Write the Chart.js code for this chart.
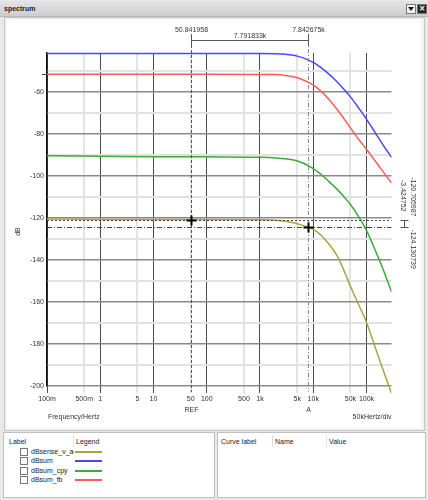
<!DOCTYPE html>
<html>
<head>
<meta charset="utf-8">
<script src="https://cdn.jsdelivr.net/npm/chart.js@4.4.1/dist/chart.umd.min.js"></script>
<style>
  body { margin:0; width:428px; height:500px; background:#e9e9e9; position:relative; overflow:hidden;
         font-family:"Liberation Sans", Arial, sans-serif; font-size:7px; color:#222; }
  .titlebar { position:absolute; left:0; top:1px; width:428px; height:15px;
              background:linear-gradient(#e4e4e4,#cdcdcd); border-bottom:1px solid #b9b9b9; }
  .titlebar .name { position:absolute; left:4px; top:4px; font-weight:bold; }
  .btn { position:absolute; top:3px; width:8px; height:8px; background:#f2f2f2; border:1px solid #777; }
  .btn.menu::after { content:""; position:absolute; left:1px; top:2px; border-left:3px solid transparent;
                     border-right:3px solid transparent; border-top:4px solid #111; }
  .btn.close { background:#222; color:#fff; font:bold 8px/8px "DejaVu Sans", sans-serif; text-align:center; }
  .panel { position:absolute; left:4px; top:17px; width:419px; height:412px; border:1px solid #c4c4c4; background:#f3f3f3; }
  #plotwrap { position:absolute; left:7px; top:20px; width:414px; height:408px; background:#fff; }
  .box { position:absolute; top:432px; height:64px; background:#fff; border:1px solid #c0c0c0; }
  .hdr { position:absolute; top:5px; }
  .sep { position:absolute; top:2px; width:1px; height:12px; background:#e2e2e2; }
  .row { position:absolute; left:0; height:9px; }
  .chk { position:absolute; left:16px; top:0; width:6px; height:6px; border:1px solid #777; background:#fff; }
  .lbl { position:absolute; left:27px; top:-1px; width:43px; height:10px; line-height:9px; overflow:hidden; white-space:nowrap; }
  .swatch { position:absolute; left:71px; top:3px; width:27px; height:2px; }
</style>
</head>
<body>
<div class="titlebar"><span class="name">spectrum</span>
  <div class="btn menu" style="left:406px"></div>
  <div class="btn close" style="left:417px">×</div>
</div>
<div class="panel"></div>
<div id="plotwrap"><canvas id="spectrum" width="414" height="408"></canvas></div>

<div class="box" style="left:3px; width:210px;">
  <span class="hdr" style="left:5px">Label</span>
  <div class="sep" style="left:69px"></div>
  <span class="hdr" style="left:72px">Legend</span>
  <div id="legendRows"></div>
</div>
<div class="box" style="left:217px; width:207px;">
  <span class="hdr" style="left:3px">Curve label</span>
  <div class="sep" style="left:54px"></div>
  <span class="hdr" style="left:57px">Name</span>
  <div class="sep" style="left:108px"></div>
  <span class="hdr" style="left:111px">Value</span>
</div>

<script>
"use strict";

/* --- DATA --- */

const freqHz = [0.1, 1, 10, 100, 1000, 2000, 3000, 4000, 5000, 6000, 7000, 8000, 10000,
                12000, 15000, 20000, 25000, 30000, 40000, 50000, 70000, 100000, 150000, 200000, 295000];

const dBsense_v_adc = [-120.4, -120.6, -120.7, -120.7, -120.8, -121.0, -121.5, -122.1, -122.7, -123.3,
                       -123.8, -124.3, -125.4, -126.7, -128.9, -132.6, -135.9, -139.3, -146.5, -152.5,
                       -160.8, -169.6, -182.5, -191.5, -203.5];
const dBsum = [-41.5, -41.5, -41.5, -41.5, -41.5, -41.6, -41.9, -42.3, -42.8, -43.4,
               -44.0, -44.6, -45.8, -47.1, -48.9, -51.5, -53.8, -55.8, -59.3, -62.2,
               -67.2, -72.8, -79.8, -84.7, -91.0];
const dBsum_cpy = [-90.3, -90.5, -90.7, -90.8, -91.0, -91.3, -91.7, -92.2, -92.8, -93.5,
                   -94.2, -95.0, -96.4, -97.8, -99.8, -102.7, -105.0, -107.0, -110.5, -113.5,
                   -119.0, -125.8, -136.0, -143.6, -155.2];
const dBsum_fb = [-51.4, -51.4, -51.4, -51.4, -51.5, -51.6, -52.0, -52.5, -53.1, -53.8,
                  -54.5, -55.2, -56.6, -58.0, -60.2, -63.6, -66.6, -69.2, -73.5, -77.0,
                  -82.2, -87.2, -93.2, -97.5, -103.2];

const curveNames = ['dBsense_v_adc', 'dBsum', 'dBsum_cpy', 'dBsum_fb'];
const curveColors = ['#aca444', '#4747ff', '#3ea93e', '#ff5a5a'];

const xTicks = [0.1, 0.5, 1, 5, 10, 50, 100, 500, 1000, 5000, 10000, 50000, 100000];
const xTickLabels = ['100m', '500m', '1', '5', '10', '50', '100', '500', '1k', '5k', '10k', '50k', '100k'];
const xTickMajor = [true, false, true, false, true, false, true, false, true, false, true, false, true];
const yTicks = [-200, -190, -180, -170, -160, -150, -140, -130, -120, -110, -100, -90, -80, -70, -60, -50];

// cursors: [frequency, level] and their readouts
const refCursor = [50.841958, -120.705987];
const aCursor = [7842.675, -124.130739];
const cursorTexts = ['50.841958', '7.842675k', '7.791833k', '-120.705987', '-124.130739', '-3.424752'];

const FONT = { family: '"Liberation Sans", Arial, sans-serif', size: 7 };

/* --- LEGEND PANEL --- */

const rows = document.getElementById('legendRows');
curveNames.forEach((name, i) => {
  const r = document.createElement('div');
  r.className = 'row';
  r.style.top = (15 + i * 9.4) + 'px';
  r.style.width = '200px';
  r.innerHTML = '<div class="chk"></div><div class="lbl">' + name + '</div>' +
                '<div class="swatch" style="background:' + curveColors[i] + '"></div>';
  rows.appendChild(r);
});

/* --- CURSOR OVERLAY --- */

function seg(ctx, x1, y1, x2, y2, color, dash, width) {
  ctx.beginPath();
  ctx.setLineDash(dash || []);
  ctx.strokeStyle = color;
  ctx.lineWidth = width || 1;
  ctx.moveTo(x1, y1);
  ctx.lineTo(x2, y2);
  ctx.stroke();
}

const cursorPlugin = {
  id: 'cursors',
  afterDatasetsDraw(chart) {
    const { ctx, chartArea: a, scales: { x, y } } = chart;
    const xr = Math.round(x.getPixelForValue(refCursor[0])) + 0.5;
    const yr = Math.round(y.getPixelForValue(refCursor[1])) + 0.5;
    const xa = Math.round(x.getPixelForValue(aCursor[0])) + 0.5;
    const ya = Math.round(y.getPixelForValue(aCursor[1])) + 0.5;
    ctx.save();

    // vertical cursor lines
    seg(ctx, xr, 20, xr, a.bottom + 6, '#555', [3, 2]);
    seg(ctx, xa, 20, xa, a.bottom + 6, '#888', [4, 2, 1, 2]);
    // horizontal cursor lines
    seg(ctx, a.left, yr, a.right, yr, '#444', [2, 2]);
    seg(ctx, a.left, ya, a.right, ya, '#444', [5, 2, 1, 2]);

    // top bracket
    seg(ctx, xr, 20.5, xa, 20.5, '#555');
    seg(ctx, xr, 14, xr, 26, '#555');
    seg(ctx, xa, 14, xa, 26, '#555');

    // right bracket
    const bx = 397.5;
    seg(ctx, bx, yr, bx, ya, '#555');
    seg(ctx, bx - 4, yr, bx + 4, yr, '#555');
    seg(ctx, bx - 4, ya, bx + 4, ya, '#555');

    // crosshairs
    [[xr, yr], [xa, ya]].forEach(p => {
      seg(ctx, p[0] - 5, p[1], p[0] + 5, p[1], '#000', [], 2);
      seg(ctx, p[0], p[1] - 5, p[0], p[1] + 5, '#000', [], 2);
    });

    // small level mark left of the axis
    const ym = Math.round(y.getPixelForValue(dBsum_fb[0])) + 0.5;
    seg(ctx, a.left - 5, ym, a.left, ym, '#444');

    ctx.font = FONT.size + 'px ' + FONT.family;
    ctx.fillStyle = '#333';
    ctx.textBaseline = 'middle';
    ctx.textAlign = 'center';
    ctx.fillText(cursorTexts[0], xr, 10);
    ctx.fillText(cursorTexts[1], xa, 10);
    ctx.fillText(cursorTexts[2], (xr + xa) / 2, 16);
    ctx.fillText('REF', xr, a.bottom + 24);
    ctx.fillText('A', xa, a.bottom + 24);

    ctx.textAlign = 'left';
    ctx.fillText('Frequency/Hertz', a.left + 1, a.bottom + 31);
    ctx.textAlign = 'right';
    ctx.fillText('50kHertz/div', a.right, a.bottom + 31);

    // rotated readouts on the right
    ctx.save();
    ctx.translate(406, yr - 4);
    ctx.rotate(Math.PI / 2);
    ctx.textAlign = 'right';
    ctx.fillText(cursorTexts[3], 0, 0);
    ctx.restore();

    ctx.save();
    ctx.translate(396, yr - 9);
    ctx.rotate(Math.PI / 2);
    ctx.textAlign = 'right';
    ctx.fillText(cursorTexts[5], 0, 0);
    ctx.restore();

    ctx.save();
    ctx.translate(406, ya + 2);
    ctx.rotate(Math.PI / 2);
    ctx.textAlign = 'left';
    ctx.fillText(cursorTexts[4], 0, 0);
    ctx.restore();

    // y axis title
    ctx.save();
    ctx.translate(11, (a.top + a.bottom) / 2 + 12);
    ctx.rotate(-Math.PI / 2);
    ctx.textAlign = 'center';
    ctx.fillText('dB', 0, 0);
    ctx.restore();

    ctx.restore();
  }
};

/* --- CHART --- */

const series = [dBsense_v_adc, dBsum, dBsum_cpy, dBsum_fb];

const spectrum_chart = new Chart(document.getElementById('spectrum'), {
  type: 'line',
  data: {
    datasets: series.map((vals, i) => ({
      label: curveNames[i],
      data: freqHz.map((f, k) => ({ x: f, y: vals[k] })),
      borderColor: curveColors[i],
      borderWidth: 1.5,
      pointRadius: 0,
      cubicInterpolationMode: 'monotone',
      clip: { left: 0, top: 2, right: 0, bottom: 8 }
    }))
  },
  options: {
    responsive: false,
    animation: false,
    layout: { padding: { top: 33, right: 29.5, left: 0, bottom: 0 } },
    plugins: {
      legend: { display: false },
      tooltip: { enabled: false }
    },
    scales: {
      x: {
        type: 'logarithmic',
        min: 0.1,
        max: 295000,
        afterBuildTicks: s => { s.ticks = xTicks.map(v => ({ value: v })); },
        afterFit: s => { s.height = 42; },
        ticks: {
          autoSkip: false,
          maxRotation: 0,
          padding: 2,
          font: FONT,
          color: '#333',
          callback: (v, i) => xTickLabels[i]
        },
        grid: {
          color: c => xTickMajor[c.index] ? '#4a4a4a' : '#e4e4e4',
          lineWidth: c => xTickMajor[c.index] ? 1 : 2,
          tickLength: 7
        },
        border: { display: false }
      },
      y: {
        min: -200,
        max: -41.3,
        afterBuildTicks: s => { s.ticks = yTicks.map(v => ({ value: v })); },
        afterFit: s => { s.width = 40; },
        ticks: {
          padding: 3,
          font: FONT,
          color: '#333',
          callback: v => (v % 20 === 0 ? String(v) : '')
        },
        grid: {
          color: c => (yTicks[c.index] % 20 === 0 ? '#8a8a8a' : '#e2e2e2'),
          lineWidth: c => (yTicks[c.index] % 20 === 0 ? 1.5 : 2),
          drawTicks: false
        },
        border: { color: '#111', width: 1.5 }
      }
    }
  },
  plugins: [cursorPlugin]
});
</script>
</body>
</html>
